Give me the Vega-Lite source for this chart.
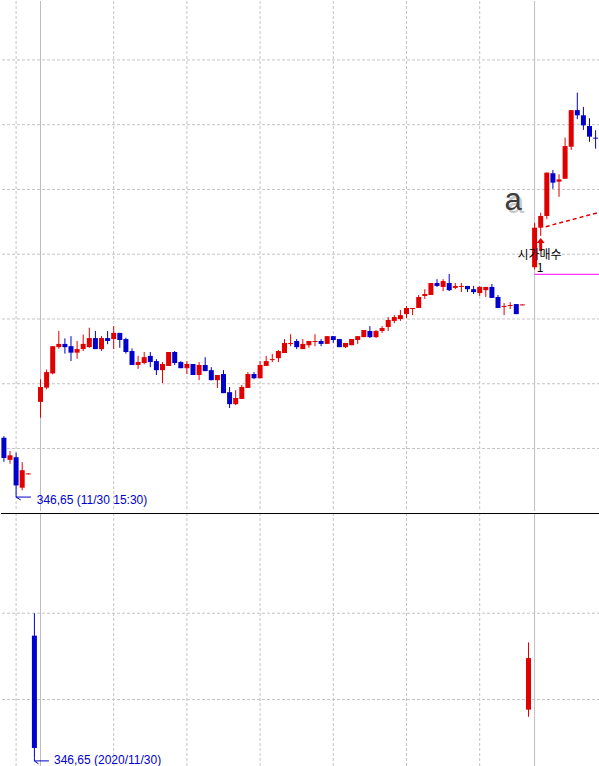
{
  "$schema": "https://vega.github.io/schema/vega-lite/v6.json",
  "padding": 0,
  "spacing": 0,
  "background": "white",
  "config": {"view": {"stroke": null}, "concat": {"spacing": 0}, "scale": {"continuousPadding": 0}},
  "datasets": {
    "intraday": [
      {"slot": -6, "o": 348.33, "h": 348.38, "l": 347.59, "c": 347.71},
      {"slot": -5, "o": 347.65, "h": 347.92, "l": 347.53, "c": 347.79},
      {"slot": -4, "o": 347.73, "h": 347.87, "l": 346.65, "c": 346.86},
      {"slot": -3, "o": 346.79, "h": 347.58, "l": 346.71, "c": 347.33},
      {"slot": -2, "o": 347.20, "h": 347.23, "l": 347.20, "c": 347.23},
      {"slot": 0, "o": 349.44, "h": 350.14, "l": 348.95, "c": 349.90},
      {"slot": 1, "o": 349.88, "h": 350.44, "l": 349.83, "c": 350.36},
      {"slot": 2, "o": 350.32, "h": 351.16, "l": 350.29, "c": 351.16},
      {"slot": 3, "o": 351.13, "h": 351.63, "l": 351.08, "c": 351.23},
      {"slot": 4, "o": 351.23, "h": 351.40, "l": 350.93, "c": 351.13},
      {"slot": 5, "o": 351.16, "h": 351.47, "l": 350.70, "c": 350.96},
      {"slot": 6, "o": 350.96, "h": 351.32, "l": 350.77, "c": 351.07},
      {"slot": 7, "o": 351.07, "h": 351.52, "l": 351.01, "c": 351.23},
      {"slot": 8, "o": 351.13, "h": 351.73, "l": 351.11, "c": 351.41},
      {"slot": 9, "o": 351.41, "h": 351.63, "l": 351.07, "c": 351.07},
      {"slot": 10, "o": 351.07, "h": 351.47, "l": 351.01, "c": 351.41},
      {"slot": 11, "o": 351.41, "h": 351.63, "l": 351.22, "c": 351.32},
      {"slot": 12, "o": 351.38, "h": 351.78, "l": 351.07, "c": 351.57},
      {"slot": 13, "o": 351.57, "h": 351.57, "l": 351.11, "c": 351.35},
      {"slot": 14, "o": 351.38, "h": 351.42, "l": 350.93, "c": 350.98},
      {"slot": 15, "o": 351.01, "h": 351.09, "l": 350.58, "c": 350.58},
      {"slot": 16, "o": 350.58, "h": 350.86, "l": 350.46, "c": 350.67},
      {"slot": 17, "o": 350.64, "h": 350.98, "l": 350.60, "c": 350.82},
      {"slot": 18, "o": 350.86, "h": 350.98, "l": 350.51, "c": 350.67},
      {"slot": 19, "o": 350.70, "h": 350.76, "l": 350.27, "c": 350.42},
      {"slot": 20, "o": 350.42, "h": 350.67, "l": 350.02, "c": 350.61},
      {"slot": 21, "o": 350.55, "h": 350.98, "l": 350.55, "c": 350.98},
      {"slot": 22, "o": 350.98, "h": 351.01, "l": 350.58, "c": 350.64},
      {"slot": 23, "o": 350.67, "h": 350.70, "l": 350.48, "c": 350.48},
      {"slot": 24, "o": 350.48, "h": 350.70, "l": 350.30, "c": 350.61},
      {"slot": 25, "o": 350.61, "h": 350.61, "l": 350.27, "c": 350.27},
      {"slot": 26, "o": 350.27, "h": 350.67, "l": 350.11, "c": 350.58},
      {"slot": 27, "o": 350.58, "h": 350.82, "l": 350.39, "c": 350.39},
      {"slot": 28, "o": 350.42, "h": 350.51, "l": 350.11, "c": 350.11},
      {"slot": 29, "o": 350.11, "h": 350.27, "l": 349.87, "c": 350.27},
      {"slot": 30, "o": 350.30, "h": 350.42, "l": 349.71, "c": 349.71},
      {"slot": 31, "o": 349.74, "h": 349.90, "l": 349.25, "c": 349.37},
      {"slot": 32, "o": 349.37, "h": 349.80, "l": 349.34, "c": 349.56},
      {"slot": 33, "o": 349.53, "h": 349.96, "l": 349.53, "c": 349.90},
      {"slot": 34, "o": 349.87, "h": 350.36, "l": 349.87, "c": 350.30},
      {"slot": 35, "o": 350.30, "h": 350.36, "l": 350.14, "c": 350.17},
      {"slot": 36, "o": 350.17, "h": 350.70, "l": 350.17, "c": 350.58},
      {"slot": 37, "o": 350.55, "h": 350.86, "l": 350.55, "c": 350.70},
      {"slot": 38, "o": 350.73, "h": 350.92, "l": 350.67, "c": 350.76},
      {"slot": 39, "o": 350.79, "h": 351.04, "l": 350.67, "c": 351.01},
      {"slot": 40, "o": 350.95, "h": 351.38, "l": 350.95, "c": 351.26},
      {"slot": 41, "o": 351.23, "h": 351.53, "l": 351.16, "c": 351.26},
      {"slot": 42, "o": 351.32, "h": 351.38, "l": 351.07, "c": 351.13},
      {"slot": 43, "o": 351.07, "h": 351.38, "l": 351.07, "c": 351.23},
      {"slot": 44, "o": 351.19, "h": 351.32, "l": 351.11, "c": 351.32},
      {"slot": 45, "o": 351.29, "h": 351.53, "l": 351.16, "c": 351.32},
      {"slot": 46, "o": 351.32, "h": 351.38, "l": 351.16, "c": 351.23},
      {"slot": 47, "o": 351.23, "h": 351.47, "l": 351.23, "c": 351.47},
      {"slot": 48, "o": 351.47, "h": 351.47, "l": 351.26, "c": 351.35},
      {"slot": 49, "o": 351.38, "h": 351.38, "l": 351.13, "c": 351.13},
      {"slot": 50, "o": 351.13, "h": 351.26, "l": 351.10, "c": 351.26},
      {"slot": 51, "o": 351.19, "h": 351.38, "l": 351.19, "c": 351.38},
      {"slot": 52, "o": 351.35, "h": 351.47, "l": 351.23, "c": 351.47},
      {"slot": 53, "o": 351.44, "h": 351.66, "l": 351.44, "c": 351.66},
      {"slot": 54, "o": 351.63, "h": 351.78, "l": 351.41, "c": 351.44},
      {"slot": 55, "o": 351.44, "h": 351.66, "l": 351.41, "c": 351.63},
      {"slot": 56, "o": 351.63, "h": 351.78, "l": 351.57, "c": 351.72},
      {"slot": 57, "o": 351.75, "h": 352.06, "l": 351.63, "c": 351.97},
      {"slot": 58, "o": 351.94, "h": 352.12, "l": 351.87, "c": 352.06},
      {"slot": 59, "o": 352.00, "h": 352.28, "l": 351.94, "c": 352.12},
      {"slot": 60, "o": 352.15, "h": 352.40, "l": 352.03, "c": 352.34},
      {"slot": 61, "o": 352.31, "h": 352.34, "l": 352.12, "c": 352.34},
      {"slot": 62, "o": 352.34, "h": 352.74, "l": 352.34, "c": 352.68},
      {"slot": 63, "o": 352.71, "h": 352.92, "l": 352.62, "c": 352.77},
      {"slot": 64, "o": 352.74, "h": 353.11, "l": 352.74, "c": 353.11},
      {"slot": 65, "o": 353.11, "h": 353.23, "l": 352.99, "c": 353.02},
      {"slot": 66, "o": 352.99, "h": 353.23, "l": 352.86, "c": 353.17},
      {"slot": 67, "o": 353.11, "h": 353.39, "l": 352.86, "c": 352.89},
      {"slot": 68, "o": 352.96, "h": 353.11, "l": 352.92, "c": 353.02},
      {"slot": 69, "o": 352.99, "h": 353.11, "l": 352.83, "c": 353.02},
      {"slot": 70, "o": 353.02, "h": 353.02, "l": 352.83, "c": 352.92},
      {"slot": 71, "o": 352.92, "h": 353.02, "l": 352.77, "c": 352.83},
      {"slot": 72, "o": 352.80, "h": 353.02, "l": 352.71, "c": 352.99},
      {"slot": 73, "o": 352.89, "h": 352.99, "l": 352.68, "c": 352.99},
      {"slot": 74, "o": 352.99, "h": 353.08, "l": 352.65, "c": 352.65},
      {"slot": 75, "o": 352.68, "h": 352.74, "l": 352.34, "c": 352.34},
      {"slot": 76, "o": 352.37, "h": 352.49, "l": 352.12, "c": 352.40},
      {"slot": 77, "o": 352.40, "h": 352.52, "l": 352.31, "c": 352.43},
      {"slot": 78, "o": 352.46, "h": 352.46, "l": 352.15, "c": 352.15},
      {"slot": 79, "o": 352.42, "h": 352.45, "l": 352.42, "c": 352.45},
      {"slot": 81, "o": 353.60, "h": 354.97, "l": 353.53, "c": 354.82},
      {"slot": 82, "o": 354.82, "h": 355.28, "l": 354.56, "c": 355.18},
      {"slot": 83, "o": 355.18, "h": 356.52, "l": 355.08, "c": 356.52},
      {"slot": 84, "o": 356.50, "h": 356.60, "l": 356.02, "c": 356.21},
      {"slot": 85, "o": 356.24, "h": 356.47, "l": 355.77, "c": 356.31},
      {"slot": 86, "o": 356.33, "h": 357.60, "l": 356.33, "c": 357.34},
      {"slot": 87, "o": 357.32, "h": 358.45, "l": 357.22, "c": 358.45},
      {"slot": 88, "o": 358.45, "h": 358.99, "l": 358.17, "c": 358.29},
      {"slot": 89, "o": 358.29, "h": 358.55, "l": 357.84, "c": 357.98},
      {"slot": 90, "o": 357.96, "h": 358.20, "l": 357.47, "c": 357.63},
      {"slot": 91, "o": 357.60, "h": 357.83, "l": 357.26, "c": 357.57},
      {"slot": 92, "o": 357.65, "h": 357.70, "l": 357.37, "c": 357.42}
    ],
    "daily": [
      {"slot": -1, "o": 353.70, "h": 355.00, "l": 346.65, "c": 347.19},
      {"slot": 80, "o": 349.41, "h": 353.31, "l": 349.00, "c": 352.40}
    ],
    "hgridUpper": [{"p": 348}, {"p": 350}, {"p": 352}, {"p": 354}, {"p": 356}, {"p": 358}, {"p": 360}],
    "hgridLower": [{"p": 350}, {"p": 355}],
    "vgrid": [{"s": -4}, {"s": 12}, {"s": 24}, {"s": 36}, {"s": 48}, {"s": 60}, {"s": 72}],
    "daySep": [{"s": 0}, {"s": 81}]
  },
  "vconcat": [
    {
      "width": 599,
      "height": 510,
      "layer": [
        {
          "data": {"name": "hgridUpper"},
          "mark": {"type": "rule", "color": "#c4c4c4", "strokeDash": [3, 2], "strokeWidth": 1},
          "encoding": {"y": {"field": "p", "type": "quantitative", "axis": null, "scale": {"domain": [346.07, 361.82], "nice": false, "zero": false, "padding": 0}}}
        },
        {
          "data": {"name": "vgrid"},
          "mark": {"type": "rule", "color": "#c4c4c4", "strokeDash": [3, 2], "strokeWidth": 1},
          "encoding": {"x": {"field": "s", "type": "quantitative", "axis": null, "scale": {"domain": [-6.4754, 91.7213], "nice": false, "zero": false, "padding": 0}}}
        },
        {
          "data": {"name": "daySep"},
          "mark": {"type": "rule", "color": "#bdbdbd", "strokeWidth": 1},
          "encoding": {"x": {"field": "s", "type": "quantitative", "axis": null, "scale": {"domain": [-6.4754, 91.7213], "nice": false, "zero": false, "padding": 0}}}
        },
        {
          "data": {"name": "intraday"},
          "mark": {"type": "rule", "strokeWidth": 1},
          "encoding": {
            "x": {"field": "slot", "type": "quantitative", "axis": null, "scale": {"domain": [-6.4754, 91.7213], "nice": false, "zero": false, "padding": 0}},
            "y": {"field": "l", "type": "quantitative", "axis": null, "scale": {"domain": [346.07, 361.82], "nice": false, "zero": false, "padding": 0}},
            "y2": {"field": "h"},
            "color": {"condition": {"test": "datum.c >= datum.o", "value": "#e00000"}, "value": "#0000cc"}
          }
        },
        {
          "data": {"name": "intraday"},
          "mark": {"type": "bar", "width": 5},
          "encoding": {
            "x": {"field": "slot", "type": "quantitative", "axis": null, "scale": {"domain": [-6.4754, 91.7213], "nice": false, "zero": false, "padding": 0}},
            "y": {"field": "o", "type": "quantitative", "axis": null, "scale": {"domain": [346.07, 361.82], "nice": false, "zero": false, "padding": 0}},
            "y2": {"field": "c"},
            "color": {"condition": {"test": "datum.c >= datum.o", "value": "#e00000"}, "value": "#0000cc"}
          }
        },
        {
          "data": {"values": [{"s1": 82.82, "p1": 354.85, "s2": 91.72, "p2": 355.30}]},
          "mark": {"type": "rule", "color": "#e00000", "strokeWidth": 1.5, "strokeDash": [4, 3]},
          "encoding": {
            "x": {"field": "s1", "type": "quantitative", "axis": null, "scale": {"domain": [-6.4754, 91.7213], "nice": false, "zero": false, "padding": 0}},
            "x2": {"field": "s2"},
            "y": {"field": "p1", "type": "quantitative", "axis": null, "scale": {"domain": [346.07, 361.82], "nice": false, "zero": false, "padding": 0}},
            "y2": {"field": "p2"}
          }
        },
        {
          "data": {"values": [{"s1": 81, "s2": 91.72, "p": 353.38}]},
          "mark": {"type": "rule", "color": "#ff00ff", "strokeWidth": 1},
          "encoding": {
            "x": {"field": "s1", "type": "quantitative", "axis": null, "scale": {"domain": [-6.4754, 91.7213], "nice": false, "zero": false, "padding": 0}},
            "x2": {"field": "s2"},
            "y": {"field": "p", "type": "quantitative", "axis": null, "scale": {"domain": [346.07, 361.82], "nice": false, "zero": false, "padding": 0}}
          }
        },
        {
          "data": {"values": [{"s": 82, "p": 354.30}]},
          "mark": {"type": "point", "filled": true, "opacity": 1, "color": "#e00000", "size": 169, "shape": "M0,-1L0.62,-0.25L0.23,-0.25L0.23,1L-0.23,1L-0.23,-0.25L-0.62,-0.25Z"},
          "encoding": {
            "x": {"field": "s", "type": "quantitative", "axis": null, "scale": {"domain": [-6.4754, 91.7213], "nice": false, "zero": false, "padding": 0}},
            "y": {"field": "p", "type": "quantitative", "axis": null, "scale": {"domain": [346.07, 361.82], "nice": false, "zero": false, "padding": 0}}
          }
        },
        {
          "data": {"values": [
            {"s1": -4, "p1": 346.65, "s2": -4, "p2": 346.50},
            {"s1": -4, "p1": 346.50, "s2": -1.56, "p2": 346.50},
            {"s1": -4, "p1": 346.50, "s2": -3.25, "p2": 346.41}
          ]},
          "mark": {"type": "rule", "color": "#0000cc", "strokeWidth": 1},
          "encoding": {
            "x": {"field": "s1", "type": "quantitative", "axis": null, "scale": {"domain": [-6.4754, 91.7213], "nice": false, "zero": false, "padding": 0}},
            "x2": {"field": "s2"},
            "y": {"field": "p1", "type": "quantitative", "axis": null, "scale": {"domain": [346.07, 361.82], "nice": false, "zero": false, "padding": 0}},
            "y2": {"field": "p2"}
          }
        },
        {
          "data": {"values": [{"s": -0.62, "p": 346.41, "t": "346,65 (11/30 15:30)"}]},
          "mark": {"type": "text", "align": "left", "baseline": "middle", "font": "Liberation Sans", "fontSize": 12, "color": "#0000cc"},
          "encoding": {
            "x": {"field": "s", "type": "quantitative", "axis": null, "scale": {"domain": [-6.4754, 91.7213], "nice": false, "zero": false, "padding": 0}},
            "y": {"field": "p", "type": "quantitative", "axis": null, "scale": {"domain": [346.07, 361.82], "nice": false, "zero": false, "padding": 0}},
            "text": {"field": "t"}
          }
        },
        {
          "data": {"values": [{"s": 81.8, "p": 353.97, "t": "시가매수"}, {"s": 81.89, "p": 353.58, "t": "1"}]},
          "mark": {"type": "text", "align": "center", "baseline": "middle", "font": "Noto Sans CJK KR", "fontSize": 12, "color": "#000000"},
          "encoding": {
            "x": {"field": "s", "type": "quantitative", "axis": null, "scale": {"domain": [-6.4754, 91.7213], "nice": false, "zero": false, "padding": 0}},
            "y": {"field": "p", "type": "quantitative", "axis": null, "scale": {"domain": [346.07, 361.82], "nice": false, "zero": false, "padding": 0}},
            "text": {"field": "t"}
          }
        },
        {
          "data": {"values": [{"s": 77.46, "p": 355.36, "t": "a"}]},
          "mark": {"type": "text", "align": "center", "baseline": "alphabetic", "font": "Liberation Sans", "fontSize": 31, "color": "#9a9a9a", "opacity": 0.55, "dx": 2.5, "dy": 2.5},
          "encoding": {
            "x": {"field": "s", "type": "quantitative", "axis": null, "scale": {"domain": [-6.4754, 91.7213], "nice": false, "zero": false, "padding": 0}},
            "y": {"field": "p", "type": "quantitative", "axis": null, "scale": {"domain": [346.07, 361.82], "nice": false, "zero": false, "padding": 0}},
            "text": {"field": "t"}
          }
        },
        {
          "data": {"values": [{"s": 77.46, "p": 355.36, "t": "a"}]},
          "mark": {"type": "text", "align": "center", "baseline": "alphabetic", "font": "Liberation Sans", "fontSize": 31, "color": "#3c3c3c"},
          "encoding": {
            "x": {"field": "s", "type": "quantitative", "axis": null, "scale": {"domain": [-6.4754, 91.7213], "nice": false, "zero": false, "padding": 0}},
            "y": {"field": "p", "type": "quantitative", "axis": null, "scale": {"domain": [346.07, 361.82], "nice": false, "zero": false, "padding": 0}},
            "text": {"field": "t"}
          }
        }
      ]
    },
    {
      "width": 599,
      "height": 256,
      "layer": [
        {
          "data": {"name": "hgridLower"},
          "mark": {"type": "rule", "color": "#c4c4c4", "strokeDash": [3, 2], "strokeWidth": 1},
          "encoding": {"y": {"field": "p", "type": "quantitative", "axis": null, "scale": {"domain": [345.97, 360.81], "nice": false, "zero": false, "padding": 0}}}
        },
        {
          "data": {"name": "vgrid"},
          "mark": {"type": "rule", "color": "#c4c4c4", "strokeDash": [3, 2], "strokeWidth": 1},
          "encoding": {"x": {"field": "s", "type": "quantitative", "axis": null, "scale": {"domain": [-6.4754, 91.7213], "nice": false, "zero": false, "padding": 0}}}
        },
        {
          "data": {"name": "daySep"},
          "mark": {"type": "rule", "color": "#bdbdbd", "strokeWidth": 1},
          "encoding": {"x": {"field": "s", "type": "quantitative", "axis": null, "scale": {"domain": [-6.4754, 91.7213], "nice": false, "zero": false, "padding": 0}}}
        },
        {
          "data": {"values": [{"p": 360.78}]},
          "mark": {"type": "rule", "color": "#000000", "strokeWidth": 1},
          "encoding": {"y": {"field": "p", "type": "quantitative", "axis": null, "scale": {"domain": [345.97, 360.81], "nice": false, "zero": false, "padding": 0}}}
        },
        {
          "data": {"name": "daily"},
          "mark": {"type": "rule", "strokeWidth": 1},
          "encoding": {
            "x": {"field": "slot", "type": "quantitative", "axis": null, "scale": {"domain": [-6.4754, 91.7213], "nice": false, "zero": false, "padding": 0}},
            "y": {"field": "l", "type": "quantitative", "axis": null, "scale": {"domain": [345.97, 360.81], "nice": false, "zero": false, "padding": 0}},
            "y2": {"field": "h"},
            "color": {"condition": {"test": "datum.c >= datum.o", "value": "#e00000"}, "value": "#0000cc"}
          }
        },
        {
          "data": {"name": "daily"},
          "mark": {"type": "bar", "width": 5},
          "encoding": {
            "x": {"field": "slot", "type": "quantitative", "axis": null, "scale": {"domain": [-6.4754, 91.7213], "nice": false, "zero": false, "padding": 0}},
            "y": {"field": "o", "type": "quantitative", "axis": null, "scale": {"domain": [345.97, 360.81], "nice": false, "zero": false, "padding": 0}},
            "y2": {"field": "c"},
            "color": {"condition": {"test": "datum.c >= datum.o", "value": "#e00000"}, "value": "#0000cc"}
          }
        },
        {
          "data": {"values": [
            {"s1": -1, "p1": 346.65, "s2": -1, "p2": 346.44},
            {"s1": -1, "p1": 346.44, "s2": 1.39, "p2": 346.44},
            {"s1": -1, "p1": 346.44, "s2": -0.33, "p2": 346.27}
          ]},
          "mark": {"type": "rule", "color": "#0000cc", "strokeWidth": 1},
          "encoding": {
            "x": {"field": "s1", "type": "quantitative", "axis": null, "scale": {"domain": [-6.4754, 91.7213], "nice": false, "zero": false, "padding": 0}},
            "x2": {"field": "s2"},
            "y": {"field": "p1", "type": "quantitative", "axis": null, "scale": {"domain": [345.97, 360.81], "nice": false, "zero": false, "padding": 0}},
            "y2": {"field": "p2"}
          }
        },
        {
          "data": {"values": [{"s": 2.21, "p": 346.49, "t": "346,65 (2020/11/30)"}]},
          "mark": {"type": "text", "align": "left", "baseline": "middle", "font": "Liberation Sans", "fontSize": 12, "color": "#0000cc"},
          "encoding": {
            "x": {"field": "s", "type": "quantitative", "axis": null, "scale": {"domain": [-6.4754, 91.7213], "nice": false, "zero": false, "padding": 0}},
            "y": {"field": "p", "type": "quantitative", "axis": null, "scale": {"domain": [345.97, 360.81], "nice": false, "zero": false, "padding": 0}},
            "text": {"field": "t"}
          }
        }
      ]
    }
  ]
}
